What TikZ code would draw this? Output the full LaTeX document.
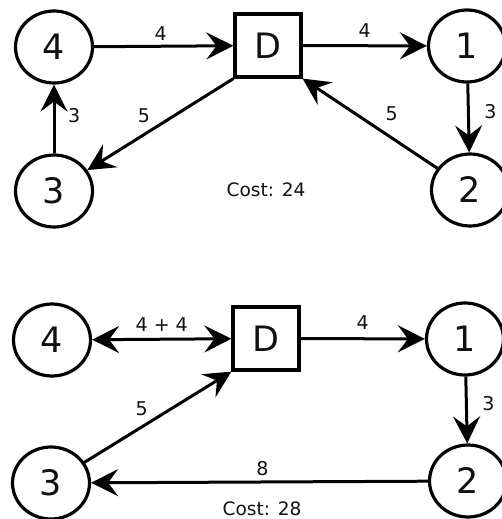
\documentclass[tikz,border=0pt]{standalone}
\usepackage{fontspec}
\setmainfont{DejaVu Sans}
\usepackage{tikz}
\usetikzlibrary{shapes.geometric,arrows.meta,positioning}
\definecolor{rtEdge}{HTML}{000000}
\definecolor{rtText}{HTML}{111111}
\tikzset{
  rtstop/.style={ellipse,draw=rtEdge,line width=3.2pt,minimum width=77pt,minimum height=72pt,
                 inner sep=0pt,font=\fontsize{35}{35}\selectfont,text=rtText},
  rtdepot/.style={rectangle,draw=rtEdge,line width=3.2pt,minimum width=66pt,minimum height=63pt,
                  inner sep=0pt,font=\fontsize{35}{35}\selectfont,text=rtText},
  rttip/.tip={Stealth[length=27pt,width=27pt,inset=10pt]},
  rtflow/.style={-rttip,draw=rtEdge,line width=3pt},
  rtboth/.style={rtflow,rttip-rttip},
  rtlbl/.style={font=\fontsize{19}{19}\selectfont,text=rtText,inner sep=1.5pt},
  rtcost/.style={font=\fontsize{18.5}{18.5}\selectfont,text=rtText,inner sep=0pt},
}
\begin{document}
\begin{tikzpicture}[x=1pt,y=-1pt]
  \useasboundingbox (0,0) rectangle (502,519);
  % first tour
  \node[rtstop] (A4) at (54,47) {4};
  \node[rtdepot] (AD) at (268,45.5) {D};
  \node[rtstop] (A1) at (467,46) {1};
  \node[rtstop] (A3) at (54,191) {3};
  \node[rtstop] (A2) at (470,190) {2};
  \node[rtcost] (Acost) at (266,190) {Cost: 24};

  \draw[rtflow] (A4)--node[rtlbl,above=3pt,xshift=-3pt]{4}(AD);
  \draw[rtflow] (AD)--node[rtlbl,above=5pt]{4}(A1);
  \draw[rtflow] (A1)--node[rtlbl,right=13pt,pos=0.4]{3}(A2);
  \draw[rtflow] (A2)--node[rtlbl,above right=4pt and 6pt,pos=0.45]{5}(AD.south east);
  \draw[rtflow] (AD.south west)--node[rtlbl,above left=3pt and 0pt,pos=0.55]{5}(A3);
  \draw[rtflow] (A3)--node[rtlbl,right=11pt,pos=0.55]{3}(A4);

  % second tour
  \node[rtstop] (B4) at (52,340) {4};
  \node[rtdepot] (BD) at (266,338.5) {D};
  \node[rtstop] (B1) at (465,339) {1};
  \node[rtstop] (B3) at (51,483) {3};
  \node[rtstop] (B2) at (468,481) {2};
  \node[rtcost] (Bcost) at (262,509) {Cost: 28};

  \draw[rtboth] (B4)--node[rtlbl,above=5pt]{4 + 4}(BD);
  \draw[rtflow] (BD)--node[rtlbl,above=6pt]{4}(B1);
  \draw[rtflow] (B1)--node[rtlbl,right=13pt,pos=0.4]{3}(B2);
  \draw[rtflow] (B2)--node[rtlbl,above=3pt,xshift=3pt]{8}(B3);
  \draw[rtflow] (B3)--node[rtlbl,above left=3pt and 0pt,pos=0.45]{5}(BD.south west);
\end{tikzpicture}
\end{document}
